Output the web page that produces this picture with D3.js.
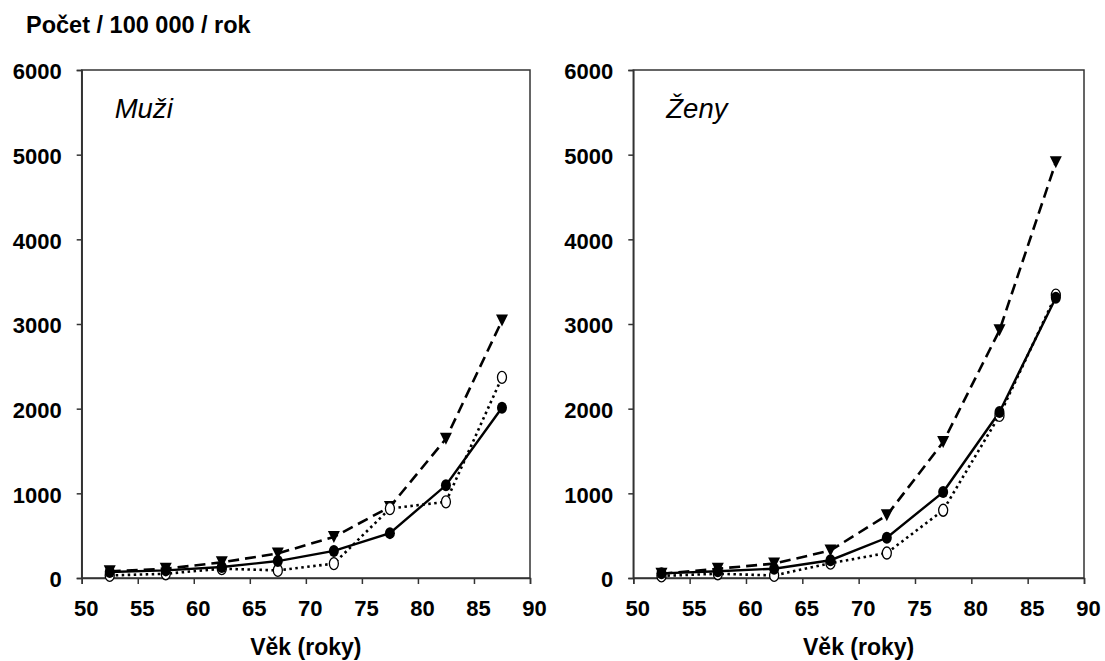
<!DOCTYPE html>
<html>
<head>
<meta charset="utf-8">
<script src="https://cdnjs.cloudflare.com/ajax/libs/d3/7.8.5/d3.min.js"></script>
<style>
  body { margin: 0; background: #fff; }
  svg { display: block; font-family: "Liberation Sans", Arial, sans-serif; }
</style>
</head>
<body>
<svg id="chart" width="1105" height="661"></svg>
<script>
// age group midpoints
var ages = [52.5, 57.5, 62.5, 67.5, 72.5, 77.5, 82.5, 87.5];
var xTicks = [50, 55, 60, 65, 70, 75, 80, 85, 90];
var yTicks = [0, 1000, 2000, 3000, 4000, 5000, 6000];

// Muži
var muziSolid  = [70, 90, 130, 200, 320, 530, 1095, 2010];
var muziDashed = [80, 110, 185, 290, 485, 840, 1645, 3040];
var muziDotted = [30, 50, 110, 90, 170, 820, 900, 2370];

// Ženy
var zenySolid  = [55, 80, 110, 210, 475, 1015, 1960, 3310];
var zenyDashed = [50, 110, 170, 325, 740, 1605, 2925, 4910];
var zenyDotted = [25, 50, 30, 175, 295, 800, 1920, 3340];

var svg = d3.select("#chart");

svg.append("text")
    .attr("x", 26)
    .attr("y", 33)
    .style("font-size", "23.5px")
    .style("font-weight", "bold")
    .text("Počet / 100 000 / rok");

function panel(left, right, label, solid, dashed, dotted) {
    var top = 70, bottom = 578;
    var x = d3.scaleLinear().domain([50, 90]).range([left, right]);
    var y = d3.scaleLinear().domain([0, 6000]).range([bottom, top]);

    var g = svg.append("g");

    // frame
    g.append("rect")
        .attr("x", left)
        .attr("y", top)
        .attr("width", right - left)
        .attr("height", bottom - top)
        .attr("fill", "none")
        .attr("stroke", "#333")
        .attr("stroke-width", 1.5);

    var axisX = d3.axisBottom(x).tickValues(xTicks).tickSize(6).tickPadding(16);
    var axisY = d3.axisLeft(y).tickValues(yTicks).tickSize(5).tickPadding(15)
        .tickFormat(d3.format("d"));

    var gx = g.append("g")
        .attr("transform", "translate(0," + bottom + ")")
        .call(axisX);
    var gy = g.append("g")
        .attr("transform", "translate(" + left + ",0)")
        .call(axisY);

    [gx, gy].forEach(function (a) {
        a.select(".domain").attr("stroke", "#333").attr("stroke-width", 1.5);
        a.selectAll(".tick line").attr("stroke", "#333").attr("stroke-width", 1.5);
        a.selectAll(".tick text")
            .attr("fill", "#000")
            .style("font-size", "22px")
            .style("font-weight", "bold")
            .style("font-family", "'Liberation Sans', Arial, sans-serif");
    });
    gx.selectAll(".tick text").attr("dx", 4);
    gy.selectAll(".tick text").attr("dy", "0.4em");

    g.append("text")
        .attr("x", (left + right) / 2)
        .attr("y", 655)
        .attr("text-anchor", "middle")
        .style("font-size", "23px")
        .style("font-weight", "bold")
        .text("Věk (roky)");

    g.append("text")
        .attr("x", left + 33)
        .attr("y", 118)
        .style("font-size", "27.5px")
        .style("font-style", "italic")
        .text(label);

    var line = d3.line()
        .x(function (d) { return x(d.age); })
        .y(function (d) { return y(d.v); });

    function pts(arr) {
        return arr.map(function (v, i) { return {age: ages[i], v: v}; });
    }

    var series = [
        {data: pts(dashed), dash: "11,6", width: 2.6, marker: "tri"},
        {data: pts(dotted), dash: "2.5,3.5", width: 2.6, marker: "open"},
        {data: pts(solid), dash: null, width: 2.4, marker: "filled"}
    ];

    series.forEach(function (s) {
        g.append("path")
            .datum(s.data)
            .attr("d", line)
            .attr("fill", "none")
            .attr("stroke", "#000")
            .attr("stroke-width", s.width)
            .attr("stroke-dasharray", s.dash);
    });

    series.forEach(function (s) {
        var m = g.append("g").selectAll("g")
            .data(s.data)
            .enter().append("g")
            .attr("transform", function (d) {
                return "translate(" + x(d.age) + "," + y(d.v) + ")";
            });
        if (s.marker === "tri") {
            m.append("path")
                .attr("d", "M-6,-6L6,-6L0,6Z")
                .attr("fill", "#000");
        } else if (s.marker === "open") {
            m.append("ellipse")
                .attr("rx", 4.5).attr("ry", 6)
                .attr("fill", "#fff")
                .attr("stroke", "#000")
                .attr("stroke-width", 1.3);
        } else {
            m.append("ellipse")
                .attr("rx", 5).attr("ry", 6)
                .attr("fill", "#000");
        }
    });
}

panel(81.7, 530, "Muži", muziSolid, muziDashed, muziDotted);
panel(633.3, 1084, "Ženy", zenySolid, zenyDashed, zenyDotted);
</script>
</body>
</html>
